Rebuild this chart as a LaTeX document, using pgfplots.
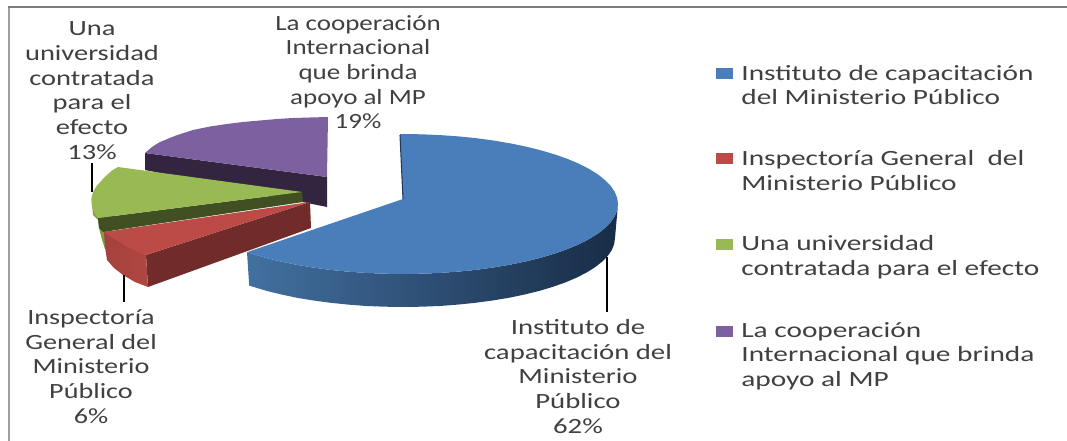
\documentclass[border=0pt]{standalone}
\usepackage{pgfplots}
\pgfplotsset{compat=1.18}
\usepackage{fontspec}
\setmainfont{Carlito}
\definecolor{txt}{HTML}{404040}
\definecolor{mblue}{HTML}{4A7EBB}
\definecolor{mred}{HTML}{BC4A47}
\definecolor{mgreen}{HTML}{98B954}
\definecolor{mpurple}{HTML}{7D60A0}
\tikzset{lbl/.style={text=txt,font=\fontsize{16.3}{18.5}\selectfont,xscale=1.35,transform shape,inner sep=0pt}}
\begin{document}
\begin{tikzpicture}
\path[use as bounding box] (0,0) rectangle (800.25pt,330.75pt);
\begin{axis}[at={(0,0)},anchor=south west,scale only axis,width=800.25pt,height=330.75pt,
  xmin=0,xmax=1067,ymin=0,ymax=441,y dir=reverse,hide axis,clip=false,
  every axis plot/.append style={draw=none,mark=none,line join=round}]
% frame
\addplot[draw={rgb,255:red,160;green,160;blue,160},line width=1.8pt] coordinates {(9,441)(9,7)};
\addplot[draw={rgb,255:red,125;green,125;blue,125},line width=1.4pt] coordinates {(8,7)(1067,7)};
% purple
\addplot[fill={rgb,255:red,51;green,37;blue,64}] coordinates {(145,153)(327,177)(327,207)(145,170)} -- cycle;
\addplot[fill=mpurple] coordinates {(145,153)(152,147)(160,142)(176,135.5)(193,130)(210,126.5)(227,124)(243,122)(260,120.5)(277,119)(293,118)(310,117.5)(328,117)(327,177)} -- cycle;
% green
\addplot[fill={rgb,255:red,125;green,155;blue,65}] coordinates {(91.5,198)(93,215)(98,220)(99,228)(102,240)(105,249)(112,249)(112,215)} -- cycle;
\addplot[fill={rgb,255:red,64;green,80;blue,34}] coordinates {(98,218)(302,192)(303,202)(103,232)(99,228)} -- cycle;
\addplot[fill=mgreen] coordinates {(118,167)(112,170.5)(107,175)(102,180)(97,185.5)(93.5,191)(91.5,197)(91.5,204)(93,210)(95,214.5)(98,218)(302,192)} -- cycle;
% red
\addplot[fill={rgb,255:red,114;green,43;blue,43}] coordinates {(146,255)(310,202)(311,228)(148,287)} -- cycle;
\addplot[left color={rgb,255:red,165;green,65;blue,60},right color={rgb,255:red,175;green,70;blue,65}] coordinates {(104,232)(105,247)(107,260)(114,268)(123,275)(135,282)(148,287)(146,255)} -- cycle;
\addplot[fill=mred] coordinates {(104,232)(111,237)(118,241)(125,245.5)(132,249)(139,252.5)(146,255)(310,202)} -- cycle;
% blue
\addplot[left color={rgb,255:red,66;green,112;blue,160},right color={rgb,255:red,24;green,44;blue,70}] coordinates {
 (618,204)(617.2,210.1)(614.7,216.2)(610.7,222.1)(605,227.9)(597.9,233.6)(589.2,239)(579.1,244.2)(567.7,249)(555,253.5)(541.2,257.6)(526.3,261.3)(510.5,264.6)(493.9,267.4)(476.5,269.8)(458.6,271.6)(440.3,272.9)(421.7,273.7)(403,274)(384.3,273.7)(365.7,272.9)(347.4,271.6)(329.5,269.8)(312.1,267.4)(295.5,264.6)(279.7,261.3)(264.8,257.6)(251,253.5)(247,252.2)
 (249.2,285.5)(253.1,286.8)(266.7,290.9)(281.4,294.5)(297,297.8)(313.4,300.5)(330.5,302.8)(348.1,304.6)(366.2,306)(384.5,306.7)(403,307)(421.5,306.7)(439.8,306)(457.9,304.6)(475.5,302.8)(492.6,300.5)(509,297.8)(524.6,294.5)(539.3,290.9)(552.9,286.8)(565.4,282.4)(576.7,277.6)(586.6,272.5)(595.1,267.2)(602.2,261.6)(607.8,255.9)(611.8,250)(614.2,244)(615,238)} -- cycle;
\addplot[fill=mblue] coordinates {(403,199)(400,134)(421.7,134.3)(440.3,135.1)(458.6,136.4)(476.5,138.2)(493.9,140.6)(510.5,143.4)(526.3,146.7)(541.2,150.4)(555,154.5)(567.7,159)(579.1,163.8)(589.2,169)(597.9,174.4)(605,180.1)(610.7,185.9)(614.7,191.8)(617.2,197.9)(618,204)(617.2,210.1)(614.7,216.2)(610.7,222.1)(605,227.9)(597.9,233.6)(589.2,239)(579.1,244.2)(567.7,249)(555,253.5)(541.2,257.6)(526.3,261.3)(510.5,264.6)(493.9,267.4)(476.5,269.8)(458.6,271.6)(440.3,272.9)(421.7,273.7)(403,274)(384.3,273.7)(365.7,272.9)(347.4,271.6)(329.5,269.8)(312.1,267.4)(295.5,264.6)(279.7,261.3)(264.8,257.6)(251,253.5)(247,252.2)} -- cycle;
\addplot[draw={rgb,255:red,31;green,58;blue,90},line width=.8pt] coordinates {(400,135)(403,199)};
% leader lines
\addplot[draw=black,line width=.9pt] coordinates {(92,163)(92,192)};
\addplot[draw=black,line width=.9pt] coordinates {(124,275)(124,302)};
\addplot[draw=black,line width=.9pt] coordinates {(607,257)(607,312)};
% legend keys
\addplot[fill=mblue] coordinates {(716,68)(733,68)(733,79)(716,79)} -- cycle;
\addplot[fill=mred] coordinates {(716,153)(733,153)(733,164)(716,164)} -- cycle;
\addplot[fill=mgreen] coordinates {(716,239)(733,239)(733,250)(716,250)} -- cycle;
\addplot[fill=mpurple] coordinates {(716,326)(733,326)(733,337)(716,337)} -- cycle;
% data labels
\node[lbl,align=center,xscale=.97] at (axis cs:92,90.5) {Una\\universidad\\contratada\\para el\\efecto\\13\%};
\node[lbl,align=center,xscale=.92] at (axis cs:358,72) {La cooperación\\Internacional\\que brinda\\apoyo al MP\\19\%};
\node[lbl,align=center,xscale=.98] at (axis cs:578,376.5) {Instituto de\\capacitación del\\Ministerio\\Público\\62\%};
\node[lbl,align=center,xscale=.96] at (axis cs:91,366.5) {Inspectoría\\General del\\Ministerio\\Público\\6\%};
% legend text
\node[lbl,align=left,anchor=west] at (axis cs:741,85) {Instituto de capacitación\\del Ministerio Público};
\node[lbl,align=left,anchor=west] at (axis cs:741,170.5) {Inspectoría General\ \ del\\Ministerio Público};
\node[lbl,align=left,anchor=west] at (axis cs:741,257) {Una universidad\\contratada para el efecto};
\node[lbl,align=left,anchor=west] at (axis cs:741,356) {La cooperación\\Internacional que brinda\\apoyo al MP};
\end{axis}
\end{tikzpicture}
\end{document}
